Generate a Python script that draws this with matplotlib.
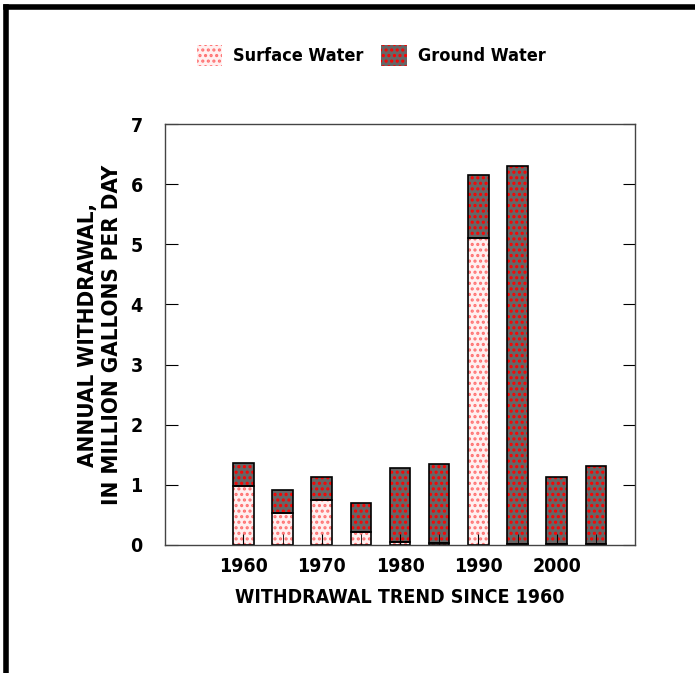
import matplotlib
matplotlib.use('Agg')
import matplotlib.pyplot as plt
from matplotlib.patches import Patch
from matplotlib.lines import Line2D

plt.rcParams['font.family'] = ['DejaVu Sans']
plt.rcParams['font.stretch'] = 'condensed'
plt.rcParams['font.weight'] = 'bold'
plt.rcParams['hatch.linewidth'] = 1.5

years = [1960, 1965, 1970, 1975, 1980, 1985, 1990, 1995, 2000, 2005]
surface = [0.98, 0.53, 0.74, 0.22, 0.05, 0.04, 5.10, 0.02, 0.01, 0.02]
ground = [0.39, 0.38, 0.39, 0.48, 1.23, 1.31, 1.06, 6.28, 1.12, 1.30]
xticks = [1960, 1970, 1980, 1990, 2000]
yticks = [0, 1, 2, 3, 4, 5, 6, 7]

fig = plt.figure(figsize=(6.95, 6.73), dpi=100)
ax = fig.add_axes([0.2374, 0.1902, 0.6763, 0.6255])

w = 2.6
sw_face, sw_hatch = '#fff0f0', '#ff7070'
gw_face, gw_hatch = '#666666', '#ff0000'
# hatched fills (hatch takes the edge colour), then black outlines on top
ax.bar(years, surface, w, color=sw_face, edgecolor=sw_hatch, hatch='...', linewidth=0)
ax.bar(years, ground, w, bottom=surface, color=gw_face, edgecolor=gw_hatch, hatch='...', linewidth=0)
ax.bar(years, surface, w, fill=False, edgecolor='black', linewidth=1.2)
ax.bar(years, ground, w, bottom=surface, fill=False, edgecolor='black', linewidth=1.2)

ax.set_xlim(1950, 2010)
ax.set_ylim(0, 7)
ax.set_yticks(yticks)
ax.set_xticks(xticks)
ax.set_xticks(years, minor=True)
ax.tick_params(axis='y', direction='in', length=9, right=True, labelsize=14, pad=16)
ax.tick_params(axis='x', which='both', direction='in', length=8, labelsize=14, pad=9)
for s in ax.spines.values():
    s.set_color('#444444')
    s.set_linewidth(1)

ax.set_xlabel('WITHDRAWAL TREND SINCE 1960', fontsize=14, fontweight='bold', labelpad=8)
ax.set_ylabel('ANNUAL WITHDRAWAL,\nIN MILLION GALLONS PER DAY', fontsize=16,
              fontweight='bold', labelpad=6, linespacing=1.25)

handles = [Patch(facecolor=sw_face, edgecolor=sw_hatch, hatch='...', linewidth=0),
           Patch(facecolor=gw_face, edgecolor=gw_hatch, hatch='...', linewidth=0)]
fig.legend(handles, ['Surface Water', 'Ground Water'], loc='center',
           bbox_to_anchor=(0.534, 0.918), ncol=2, frameon=False, fontsize=13,
           handlelength=1.4, handleheight=1.4, columnspacing=1.0, handletextpad=0.6)

# outer frame lines (top and left)
fig.add_artist(Line2D([0.008, 1.0], [0.99, 0.99], color='black', lw=4, transform=fig.transFigure))
fig.add_artist(Line2D([0.008, 0.008], [0.0, 0.99], color='black', lw=4, transform=fig.transFigure))

fig.savefig('out.png', dpi=100)
